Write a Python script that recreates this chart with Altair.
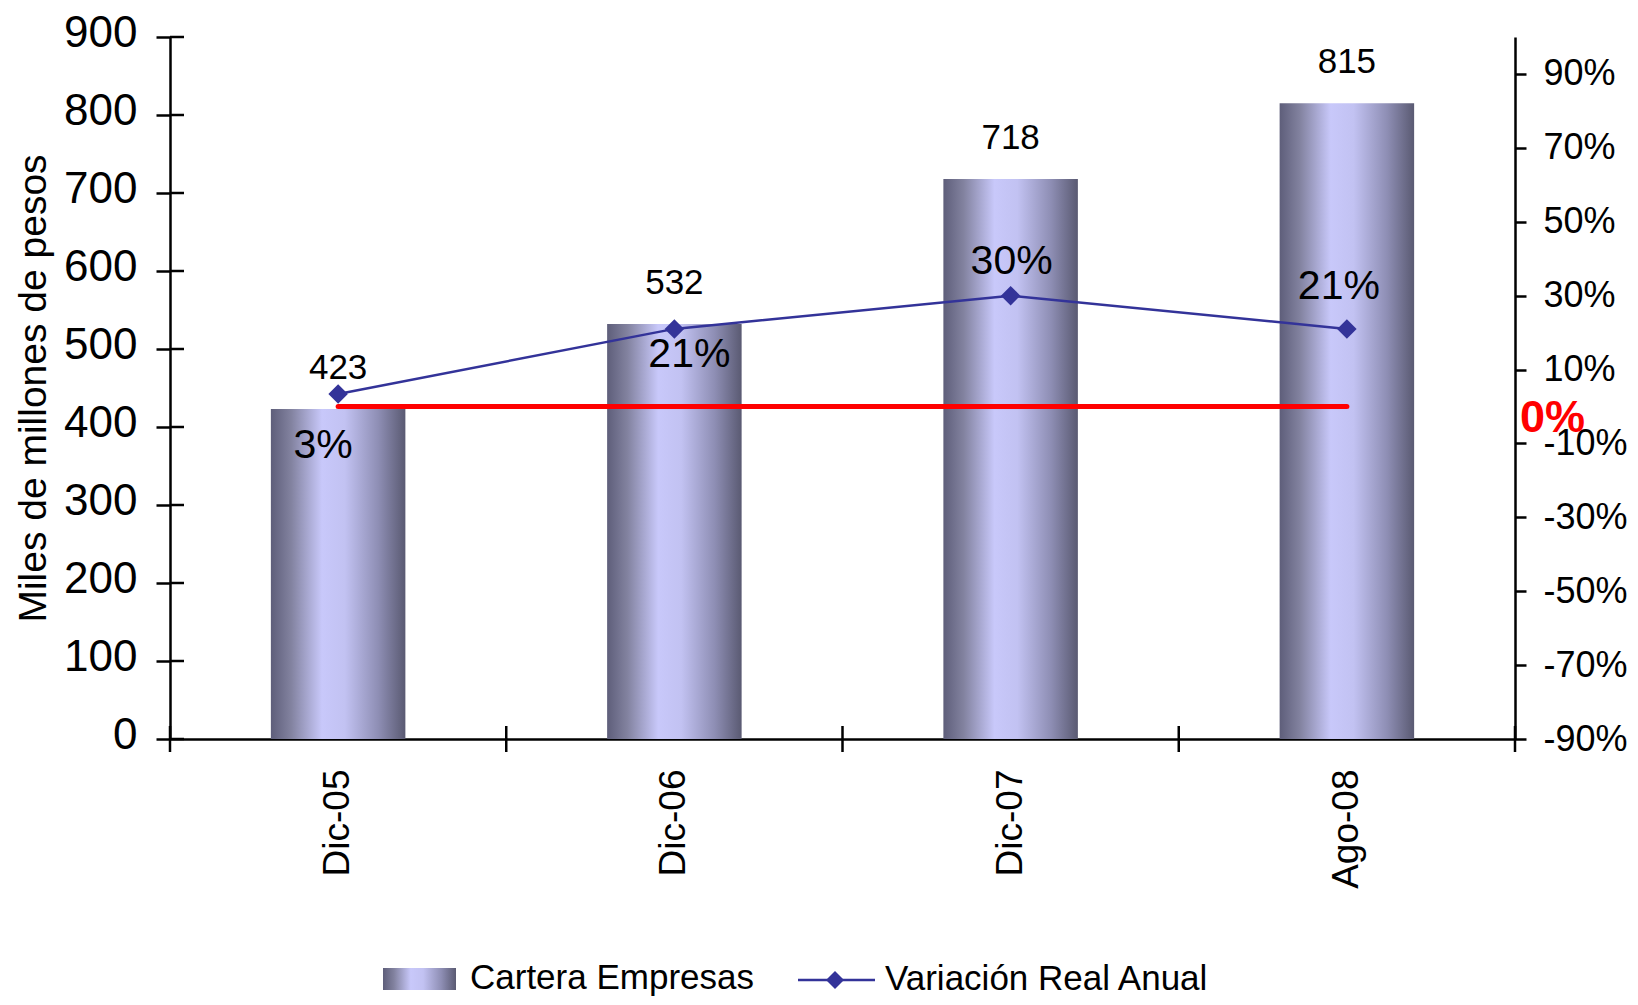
import altair as alt
import pandas as pd

# --- data -------------------------------------------------------------
periodos = ["Dic-05", "Dic-06", "Dic-07", "Ago-08"]
cartera = [423, 532, 718, 815]              # miles de millones de pesos
variacion = [0.034, 0.21, 0.30, 0.21]       # variación real anual
ticks_izq = [0, 100, 200, 300, 400, 500, 600, 700, 800, 900]
ticks_der = [-0.9, -0.7, -0.5, -0.3, -0.1, 0.1, 0.3, 0.5, 0.7, 0.9]
leyenda = ["Cartera Empresas", "Variación Real Anual"]

df = pd.DataFrame({"periodo": periodos, "cartera": cartera, "variacion": variacion})

# --- styling ------------------------------------------------------------
W, H = 1345, 702
SANS = "Liberation Sans, Arial, sans-serif"
AZUL = "#333399"
ROJO = "#ff0000"
LINEA = 2.5
PAD_IN, PAD_OUT = 0.6, 0.3
MEDIO_HUECO = W / len(periodos) * PAD_OUT   # half of the gap between two bars
TICK_X = 13

# percentages with a plain hyphen for negatives
PCT_EXPR = "replace(format(datum.value, '.0%'), '\u2212', '-')"

barra = alt.Gradient(
    gradient="linear", x1=0, x2=1, y1=0, y2=0,
    stops=[
        alt.GradientStop(offset=0.0, color="#5e5e7a"),
        alt.GradientStop(offset=0.15, color="#82829f"),
        alt.GradientStop(offset=0.38, color="#c8c8fa"),
        alt.GradientStop(offset=0.55, color="#c2c2f2"),
        alt.GradientStop(offset=0.80, color="#8e8eb4"),
        alt.GradientStop(offset=1.0, color="#5a5a72"),
    ],
)

x_scale = alt.Scale(domain=periodos, paddingInner=PAD_IN, paddingOuter=PAD_OUT)
x_axis = alt.Axis(
    title=None, labelAngle=270, labelAlign="right", labelBaseline="middle",
    labelFont=SANS, labelFontSize=37, labelPadding=30, ticks=False,
    domainWidth=LINEA,
)
x_enc = alt.X("periodo:N", sort=periodos, scale=x_scale, axis=x_axis)

y_izq = alt.Scale(domain=[0, 900], nice=False, zero=True)
y_der = alt.Scale(domain=[-0.9, 1.0], nice=False, zero=False)

base = alt.Chart(df)

# --- left axis group: bars -------------------------------------------------
barras = base.mark_bar(fill=barra).encode(
    x=x_enc,
    y=alt.Y(
        "cartera:Q", scale=y_izq,
        axis=alt.Axis(
            title="Miles de millones de pesos", titleFont=SANS, titleFontSize=39,
            titleFontWeight="normal", titleX=-117, titleY=H / 2,
            values=ticks_izq, labelFont=SANS, labelFontSize=44,
            labelPadding=19, tickSize=14, tickWidth=LINEA, domainWidth=LINEA,
            labelFlush=False, labelOverlap=False, labelOffset=-4,
        ),
    ),
)

etiquetas_barras = base.mark_text(
    font=SANS, fontSize=35, color="black", baseline="alphabetic", dy=-30
).encode(x=x_enc, y=alt.Y("cartera:Q", scale=y_izq), text=alt.Text("cartera:Q"))

# inner half of the crossing ticks on the left axis
ticks_izq_df = pd.DataFrame({"v": ticks_izq})
ticks_izq_int = alt.Chart(ticks_izq_df).mark_rule(color="black", strokeWidth=LINEA).encode(
    y=alt.Y("v:Q", scale=y_izq), x=alt.value(0), x2=alt.value(14)
)

# crossing ticks on the category axis, at the boundaries between periods
bordes = alt.Chart(df).mark_rule(color="black", strokeWidth=LINEA, xOffset=-MEDIO_HUECO).encode(
    x=alt.X("periodo:N", sort=periodos, scale=x_scale, bandPosition=0),
    y=alt.value(H - TICK_X), y2=alt.value(H + TICK_X),
)
borde_final = alt.Chart(df).transform_filter(
    alt.datum.periodo == periodos[-1]
).mark_rule(color="black", strokeWidth=LINEA, xOffset=MEDIO_HUECO).encode(
    x=alt.X("periodo:N", sort=periodos, scale=x_scale, bandPosition=1),
    y=alt.value(H - TICK_X), y2=alt.value(H + TICK_X),
)

izquierda = alt.layer(barras, etiquetas_barras, ticks_izq_int, bordes, borde_final)

# --- right axis group: annual real variation -------------------------------
linea = base.mark_line(color=AZUL, strokeWidth=LINEA).encode(
    x=x_enc,
    y=alt.Y(
        "variacion:Q", scale=y_der,
        axis=alt.Axis(
            title=None, orient="right", values=ticks_der, labelExpr=PCT_EXPR,
            labelFont=SANS, labelFontSize=36, labelPadding=17, tickSize=11,
            tickWidth=LINEA, domainWidth=LINEA, labelFlush=False, labelOverlap=False,
        ),
    ),
)
puntos = base.mark_point(shape="diamond", filled=True, size=380, color=AZUL, opacity=1).encode(
    x=x_enc, y=alt.Y("variacion:Q", scale=y_der)
)

# per-label nudges (dx, dy) for the percentage labels
ajustes = [(-15, 64), (15, 38), (1, -22), (-8, -30)]
etiquetas_pct = []
for periodo, (dx, dy) in zip(periodos, ajustes):
    etiquetas_pct.append(
        base.transform_filter(alt.datum.periodo == periodo)
        .mark_text(font=SANS, fontSize=41, color="black", baseline="alphabetic", dx=dx, dy=dy)
        .encode(
            x=x_enc,
            y=alt.Y("variacion:Q", scale=y_der),
            text=alt.Text("variacion:Q", format=".0%"),
        )
    )

cero_df = pd.DataFrame({"desde": [periodos[0]], "hasta": [periodos[-1]], "v": [0.0]})
linea_cero = alt.Chart(cero_df).mark_rule(color=ROJO, strokeWidth=5, strokeCap="round").encode(
    x=alt.X("desde:N", sort=periodos, scale=x_scale),
    x2="hasta:N",
    y=alt.Y("v:Q", scale=y_der),
)
etiqueta_cero = alt.Chart(cero_df).mark_text(
    font=SANS, fontSize=45, fontWeight="bold", color=ROJO,
    align="left", baseline="alphabetic", dy=26,
).encode(
    x=alt.value(W + 5),
    y=alt.Y("v:Q", scale=y_der),
    text=alt.Text("v:Q", format=".0%"),
)

derecha = alt.layer(linea_cero, linea, puntos, *etiquetas_pct, etiqueta_cero)

# --- legend ---------------------------------------------------------------
ley_df = pd.DataFrame({"item": leyenda})
ley_barra = alt.Chart(ley_df).transform_filter(alt.datum.item == leyenda[0]).mark_rect(fill=barra).encode(
    x=alt.value(213), x2=alt.value(286), y=alt.value(931), y2=alt.value(953)
)
ley_linea = alt.Chart(ley_df).transform_filter(alt.datum.item == leyenda[1]).mark_rule(
    color=AZUL, strokeWidth=LINEA
).encode(x=alt.value(628), x2=alt.value(705), y=alt.value(943))
ley_punto = alt.Chart(ley_df).transform_filter(alt.datum.item == leyenda[1]).mark_point(
    shape="diamond", filled=True, size=324, color=AZUL, opacity=1
).encode(x=alt.value(665), y=alt.value(943))
ley_txt1 = alt.Chart(ley_df).transform_filter(alt.datum.item == leyenda[0]).mark_text(
    font=SANS, fontSize=35, align="left", baseline="alphabetic", color="black"
).encode(x=alt.value(300), y=alt.value(952), text="item:N")
ley_txt2 = alt.Chart(ley_df).transform_filter(alt.datum.item == leyenda[1]).mark_text(
    font=SANS, fontSize=35, align="left", baseline="alphabetic", color="black"
).encode(x=alt.value(715), y=alt.value(953), text="item:N")

leyenda_capa = alt.layer(ley_barra, ley_linea, ley_punto, ley_txt1, ley_txt2)

chart = (
    alt.layer(izquierda, derecha, leyenda_capa)
    .resolve_scale(y="independent")
    .properties(
        width=W, height=H,
        autosize=alt.AutoSizeParams(type="none"),
        padding={"left": 170, "top": 37, "right": 123, "bottom": 266},
        background="white",
    )
    .configure_view(stroke=None)
    .configure_axis(
        grid=False, domainColor="black", tickColor="black",
        labelColor="black", titleColor="black",
    )
)

chart.save("out.html", embed_options={"renderer": "svg", "actions": False})
